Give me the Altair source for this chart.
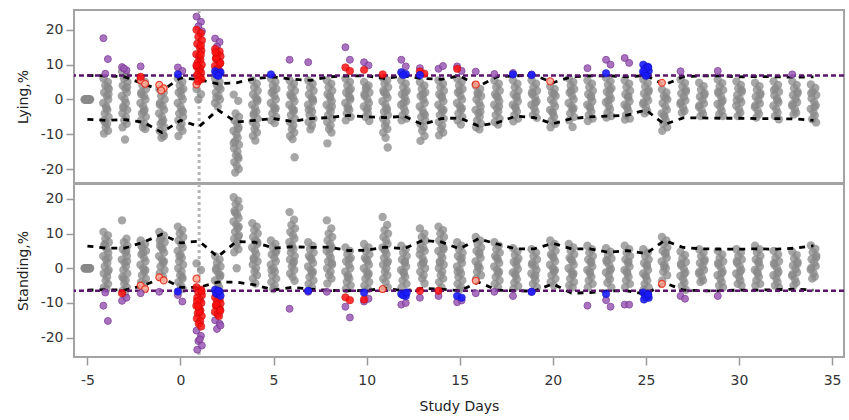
import altair as alt
import pandas as pd

# ---------------- data ----------------
DAYS = list(range(-5, 35))
X_TICKS = [-5, 0, 5, 10, 15, 20, 25, 30, 35]
Y_TICKS = [-20, -10, 0, 10, 20]
JITTER = [-0.14, 0.1, -0.04, 0.15, -0.1, 0.04, 0.12, -0.15, 0.0, 0.07,
          -0.07, 0.14, -0.12, 0.06, -0.02, 0.11, -0.11, 0.02, 0.13, -0.06, 0.09]

LYING_GRAY = {
    -5: [0, 0, 0, 0, 0, 0, 0, 0, 0, 0, 0],
    -4: [6, 5, 4, 3, 2, 1, 0, -1, -2, -3, -4, -5, -6, -7, -8, -9, -9.8, -2.5, 1.5, -6.5, 3.5],
    -3: [8, 7, 6, 5, 4, 3, 2, 1, 0, -1, -2, -3, -4, -5, -6, -7, -8, -11.5, 3.5, -2.5, 6.5],
    -2: [6, 5, 4, 3, 2, 1, 0, -1, -2, -3, -4, -5, -6, -7, -8, -8.5, 1.5, -3.5],
    -1: [3, 2, 1, 0, -1, -2, -3, -4, -5, -6, -7, -8, -9, -10, -11, -10.5, -1.5, -6.5],
    0: [6, 5, 4, 3, 2, 1, 0, -1, -2, -3, -4, -5, -6, -7, -8, -9, -10.5, 2.5, -3.5],
    1: [3, 1.5, 0],
    2: [6, 5, 4, 3, 2, 1, 0, -1, -2, 3.5, 0.5],
    3: [1.4, -0.4, -4, -5, -6, -7, -8, -9, -10, -11, -12, -13, -14, -15, -16, -17, -18, -19, -20, -21, -8.5, -12.5, -16.5],
    4: [5.5, 4.5, 3.5, 2.5, 1.5, 0.5, -0.5, -1.5, -2.5, -3.5, -4.5, -5.5, -6.5, -7.5, -8.5, -9.5, -10.5, -11.8, 0, -4],
    5: [6, 5, 4, 3, 2, 1, 0, -1, -2, -3, -4, -5, -6, -6.8, 2.5, -2.5],
    6: [5.5, 4.5, 3.5, 2.5, 1.5, 0.5, -0.5, -1.5, -2.5, -3.5, -4.5, -5.5, -6.5, -7.5, -8.5, -9.5, -10.5, -11.4, -16.6, 1, -3],
    7: [5.5, 4.5, 3.5, 2.5, 1.5, 0.5, -0.5, -1.5, -2.5, -3.5, -4.5, -5.5, -6.5, -7.5, -8.6, 0, -3],
    8: [5.5, 4.5, 3.5, 2.5, 1.5, 0.5, -0.5, -1.5, -2.5, -3.5, -4.5, -5.5, -6.5, -7.5, -8.5, -9.5, -12.6, 1, -2],
    9: [6, 5, 4, 3, 2, 1, 0, -1, -2, -3, -4, -5, -6, 2.5, -2.5, 0.5],
    10: [5, 4, 3, 2, 1, 0, -1, -2, -3, -4, -5, -6.2, 1.5, -2.5, 3.5],
    11: [6.3, 5.5, 4.5, 3.5, 2.5, 1.5, 0.5, -0.5, -1.5, -2.5, -3.5, -4.5, -5.5, -6.5, -7.5, -8.5, -9.5, -11, -13.8, 2, -3],
    12: [5.5, 4.5, 3.5, 2.5, 1.5, 0.5, -0.5, -1.5, -2.5, -3.5, -4.5, -5.5, -6, 2, -1],
    13: [5, 4, 3, 2, 1, 0, -1, -2, -3, -4, -5, -6, -7, -8, -9, -10.5, -11.9, 1.5, -4.5],
    14: [5.5, 4.5, 3.5, 2.5, 1.5, 0.5, -0.5, -1.5, -2.5, -3.5, -4.5, -5.5, -6.5, -7.5, -8.5, -9.5, -10.3, 1, -3],
    15: [6, 5, 4, 3, 2, 1, 0, -1, -2, -3, -4, -5, -6, -7.2, 2.5, -2.5],
    16: [4, 3, 2, 1, 0, -1, -2, -3, -4, -5, -6, -7, -8, -8.6, 1.5, -3.5],
    17: [5.5, 4.5, 3.5, 2.5, 1.5, 0.5, -0.5, -1.5, -2.5, -3.5, -4.5, -5.5, -6.5, -7.2, 1, -2],
    18: [5.5, 4.5, 3.5, 2.5, 1.5, 0.5, -0.5, -1.5, -2.5, -3.5, -4.5, -5.5, -6.3, 1, -2],
    19: [5.5, 4.5, 3.5, 2.5, 1.5, 0.5, -0.5, -1.5, -2.5, -3.5, -4.5, -5.3, 2, -1],
    20: [3.8, 3, 2, 1, 0, -1, -2, -3, -4, -5, -6, -7, -8, 1.5, -3.5],
    21: [6, 5, 4, 3, 2, 1, 0, -1, -2, -3, -4, -5, -6, -7.9, 2.5, -2.5],
    22: [5.5, 4.5, 3.5, 2.5, 1.5, 0.5, -0.5, -1.5, -2.5, -3.5, -4.5, -5.5, -6.2, 1, -2],
    23: [6.2, 5.2, 4.2, 3.2, 2.2, 1.2, 0.2, -0.8, -1.8, -2.8, -3.8, -4.8, -5.2, 2.7, -0.3],
    24: [5.5, 4.5, 3.5, 2.5, 1.5, 0.5, -0.5, -1.5, -2.5, -3.5, -4.5, -5.5, -5.8, 1, -2],
    25: [5.7, 4.7, 3.7, 2.7, 1.7, 0.7, -0.3, -1.3, -2.3, -3.3, -4, 2.2, -0.8],
    26: [2.9, 2, 1, 0, -1, -2, -3, -4, -5, -6, -7, -8, -9, 0.5, -4.5],
    27: [5.7, 4.7, 3.7, 2.7, 1.7, 0.7, -0.3, -1.3, -2.3, -3.3, -3.8, 2.2, -0.8],
    28: [4.8, 3.8, 2.8, 1.8, 0.8, -0.2, -1.2, -2.2, -3.2, -4.2, -4.8, 1.3, -1.7],
    29: [5.7, 4.7, 3.7, 2.7, 1.7, 0.7, -0.3, -1.3, -2.3, -3.3, -4.3, -4.8, 2.2, -0.8],
    30: [5.2, 4.2, 3.2, 2.2, 1.2, 0.2, -0.8, -1.8, -2.8, -3.8, -4.8, 2.7, -0.3],
    31: [4.8, 3.8, 2.8, 1.8, 0.8, -0.2, -1.2, -2.2, -3.2, -4.2, -5.2, 1.3, -1.7],
    32: [5.2, 4.2, 3.2, 2.2, 1.2, 0.2, -0.8, -1.8, -2.8, -3.8, -4.8, -5.7, 2.7, -0.3],
    33: [5.2, 4.2, 3.2, 2.2, 1.2, 0.2, -0.8, -1.8, -2.8, -3.8, -4.3, 1.7, -1.3],
    34: [4.3, 3.3, 2.3, 1.3, 0.3, -0.7, -1.7, -2.7, -3.7, -4.7, -5.7, -6.6, 1.8, -2.2],
}
LYING_PURPLE = {
    -4: [17.6, 11.6, 7.4], -3: [9.3, 8.4, 8.9], -2: [9.5], 0: [9.2, 8.2],
    1: [23.8, 22.3, 21, 19.6], 2: [17.5, 16.5, 15.2], 6: [11.4], 7: [10.7],
    9: [15, 11.4], 10: [10.7, 9.8], 12: [11.4, 9.5], 13: [9], 14: [8.8, 9.6],
    15: [9.5, 8.2], 16: [8], 17: [7.3], 18: [7.6], 19: [7.2], 22: [9],
    23: [11.4, 10], 24: [11.9, 10.5], 27: [8.1], 29: [8.2], 33: [7.2],
}
LYING_RED = {
    -2: [6.5],
    1: [20, 19, 18, 17, 16, 15, 14, 13, 12.2, 11.4, 10.6, 10, 9.4, 8.8, 8.2, 7.6, 7, 6.4, 5.8, 5.2, 12.8, 9.8, 15.5],
    2: [14.5, 13.8, 13.1, 12.4, 11.7, 11, 10.3, 9.6, 8.9, 8.3, 12, 10.5, 13.5],
    9: [9.2, 8.2], 10: [8.5], 11: [7.2], 13: [8, 7.4], 15: [8.8],
}
LYING_BLUE = {
    0: [7.2], 2: [8.1, 7.5, 7.0, 7.8, 7.3, 6.8], 5: [7.2], 12: [7.8, 7.3, 7.0],
    13: [7], 18: [7.2], 19: [7], 23: [7.5], 25: [10, 9.4, 8.8, 8.2, 7.6, 7, 9.2, 8, 6.8],
}
LYING_SALMON = {-2: [5.5, 4.5], -1: [4.2, 3.2, 2.6], 1: [4.3], 16: [4.3], 20: [5.2], 26: [4.8]}
LYING_UPPER = [6.9, 6.8, 6.5, 4.5, 2.5, 6.2, 5.7, 4.5, 4.8, 6, 6.5, 5.8, 5.5, 6.5, 6.8, 6.8, 6, 6.8, 6, 5.8,
               6.8, 3.8, 6.5, 6.8, 7, 4.8, 6.5, 6.8, 6.8, 6.5, 6.9, 4.2, 6.5, 6.8, 6.8, 6.5, 6.6, 6.5, 6.4, 6.5]
LYING_LOWER = [-5.7, -6, -5.8, -6.5, -9.5, -6, -7.8, -3, -6.5, -6, -5.5, -6.3, -5.5, -5.2, -4.6, -5, -5.2, -4.8, -7.2, -5.5,
               -5.3, -7.6, -6.7, -4.8, -5.2, -7, -5.5, -5, -4.8, -4.5, -3, -7.2, -5.3, -5.3, -5.4, -5.4, -5.5, -5.5, -5.6, -6]
LYING_LIMIT = 6.9

STANDING_GRAY = {
    -5: [0, 0, 0, 0, 0, 0, 0, 0, 0, 0, 0],
    -4: [10.5, 9.5, 8.5, 7.5, 6.5, 5.5, 4.5, 3.5, 2.5, 1.5, 0.5, -0.5, -1.5, -2.5, -3.5, -4.5, -5.5, -6, 3, 7, -1],
    -3: [13.8, 8.5, 7.5, 6.5, 5.5, 4.5, 3.5, 2.5, 1.5, 0.5, -0.5, -1.5, -2.5, -3.5, -4.5, -5.5, -6.5, -7.3, 2, -3, 5],
    -2: [8, 7, 6, 5, 4, 3, 2, 1, 0, -1, -2, -3, -4, -4.5, 4.5, -0.5, 6.5],
    -1: [10.5, 9.5, 8.5, 7.5, 6.5, 5.5, 4.5, 3.5, 2.5, 1.5, 0.5, -0.5, -1.5, -2.5, 6, 2, 8],
    0: [12, 11, 10, 9, 8, 7, 6, 5, 4, 3, 2, 1, 0, -1, -2, -3, -4, -5, -6, 3.5, -2.5],
    1: [1.4, -0.5],
    2: [3.5, 2.5, 1.5, 0.5, -0.5, -1.5, -2.5, -3.5, -4.5, -5.5, 0, -2],
    3: [20.5, 19.5, 18.5, 17.5, 16.5, 15.5, 14.5, 13.5, 12.5, 11.5, 10.5, 9.5, 8.5, 7.5, 6.5, 5.5, 4.6, 0, 12, 16, 9],
    4: [13, 12, 11, 10, 9, 8, 7, 6, 5, 4, 3, 2, 1, 0, -1, -2, -3, -4.4, 7.5, 2.5],
    5: [8, 7, 6, 5, 4, 3, 2, 1, 0, -1, -2, -3, -4, -5, -6, 4.5, -0.5],
    6: [16.2, 14, 12.5, 11.5, 10.5, 9.5, 8.5, 7.5, 6.5, 5.5, 4.5, 3.5, 2.5, 1.5, 0.5, -0.5, -1.5, -2.5, -3.6, 6, 2],
    7: [7.5, 6.5, 5.5, 4.5, 3.5, 2.5, 1.5, 0.5, -0.5, -1.5, -2.5, -3.5, -4.5, -5.5, 3, -1],
    8: [13.8, 11.5, 10, 9, 8, 7, 6, 5, 4, 3, 2, 1, 0, -1, -2, -3, -4.4, 5.5, 1.5],
    9: [6, 5, 4, 3, 2, 1, 0, -1, -2, -3, -4, -5, -6, 2.5, -2.5],
    10: [7, 6, 5, 4, 3, 2, 1, 0, -1, -2, -3, -4, -5, -6, 2.5, -1.5],
    11: [14.8, 12.5, 11, 10, 9, 8, 7, 6, 5, 4, 3, 2, 1, 0, -1, -2, -3, -4, -5.5, 5.5, 1.5],
    12: [6.5, 5.5, 4.5, 3.5, 2.5, 1.5, 0.5, -0.5, -1.5, -2.5, -3.5, -4.5, -5.5, 2, -1],
    13: [11.5, 10, 9, 8, 7, 6, 5, 4, 3, 2, 1, 0, -1, -2, -3, -4.4, 5.5, 1.5],
    14: [12, 11, 10, 9, 8, 7, 6, 5, 4, 3, 2, 1, 0, -1, -2, -3, -4, -5.5, 5.5, 1.5],
    15: [7.5, 6.5, 5.5, 4.5, 3.5, 2.5, 1.5, 0.5, -0.5, -1.5, -2.5, -3.5, -4.5, -5.5, -6.2, 3, -1],
    16: [9, 8, 7, 6, 5, 4, 3, 2, 1, 0, -1, -2, -3, 4.5, 0.5],
    17: [7.5, 6.5, 5.5, 4.5, 3.5, 2.5, 1.5, 0.5, -0.5, -1.5, -2.5, -3.5, -4.5, -5.5, 3, -1],
    18: [5.8, 4.8, 3.8, 2.8, 1.8, 0.8, -0.2, -1.2, -2.2, -3.2, -4.2, -5.2, -6, 2, -1.5],
    19: [5.5, 4.5, 3.5, 2.5, 1.5, 0.5, -0.5, -1.5, -2.5, -3.5, -4.5, -5.5, 1, -2],
    20: [8, 7, 6, 5, 4, 3, 2, 1, 0, -1, -2, -3, -4, -5, 3.5, -0.5],
    21: [7, 6, 5, 4, 3, 2, 1, 0, -1, -2, -3, -4, -5, -5.5, 2.5, -1.5],
    22: [6.5, 5.5, 4.5, 3.5, 2.5, 1.5, 0.5, -0.5, -1.5, -2.5, -3.5, -4.5, -5.5, 2, -1],
    23: [5.8, 4.8, 3.8, 2.8, 1.8, 0.8, -0.2, -1.2, -2.2, -3.2, -4.2, -5.5, 2.3, -0.7],
    24: [6.5, 5.5, 4.5, 3.5, 2.5, 1.5, 0.5, -0.5, -1.5, -2.5, -3.5, -4.5, -5.5, 2, -1],
    25: [5.5, 4.5, 3.5, 2.5, 1.5, 0.5, -0.5, -1.5, -2.5, -3.5, -4.5, -5.5, -6.2, 1, -2],
    26: [9, 8, 7, 6, 5, 4, 3, 2, 1, 0, -1, -2, -3.5, 4.5, 0.5],
    27: [4.8, 3.8, 2.8, 1.8, 0.8, -0.2, -1.2, -2.2, -3.2, -4.2, -5.2, -6.2, 1.3, -1.7],
    28: [5.5, 4.5, 3.5, 2.5, 1.5, 0.5, -0.5, -1.5, -2.5, -3.5, -4, 2, -1],
    29: [5, 4, 3, 2, 1, 0, -1, -2, -3, -4, -5, -5.5, 1.5, -1.5],
    30: [5.5, 4.5, 3.5, 2.5, 1.5, 0.5, -0.5, -1.5, -2.5, -3.5, -4.5, -5, 2, -1],
    31: [6.5, 5.5, 4.5, 3.5, 2.5, 1.5, 0.5, -0.5, -1.5, -2.5, -3.5, -4.5, -5, 2, -1],
    32: [5, 4, 3, 2, 1, 0, -1, -2, -3, -4, -5, -5.5, 1.5, -1.5],
    33: [4.8, 3.8, 2.8, 1.8, 0.8, -0.2, -1.2, -2.2, -3.2, -4.2, -5, 1.3, -1.7],
    34: [6.6, 5.6, 4.6, 3.6, 2.6, 1.6, 0.6, -0.4, -1.4, -2.4, -3, 3.1, 0.1],
}
STANDING_PURPLE = {
    -4: [-10.8, -15.2, -7], -3: [-9.4, -8.5], -2: [-7.2], -1: [-6.8], 0: [-7.7, -9.6],
    1: [-18, -19.5, -21, -22.3, -23.5, -20.5], 2: [-15, -16, -17.5, -16.5], 6: [-11.7],
    7: [-6.8], 8: [-6.8], 9: [-11.1, -14.2], 10: [-9.6, -8.8], 12: [-10.5, -10], 13: [-8.5],
    14: [-8], 15: [-9.8, -9.3], 16: [-7.2], 17: [-6.8], 18: [-8], 19: [-6.8], 22: [-10.8],
    23: [-9.2, -11.1], 24: [-10.5, -10.5], 27: [-8, -8.8], 29: [-8],
}
STANDING_RED = {
    -3: [-7.2],
    1: [-5.5, -6.2, -7, -7.8, -8.5, -9.2, -10, -10.8, -11.5, -12.2, -13, -13.8, -14.5, -15.3, -16, -16.8, -9.5, -12.5, -6.6, -11],
    2: [-8.4, -9, -9.6, -10.2, -10.8, -11.4, -12, -12.6, -13.2, -13.8, -10.5, -12.2],
    9: [-8.4, -9.2], 10: [-9], 13: [-6.5], 14: [-6.5],
}
STANDING_BLUE = {
    0: [-6.7], 2: [-6.2, -6.8, -7.4, -7.9, -7.1, -6.5], 7: [-6.5], 10: [-7], 12: [-7.4, -8, -7.8, -7],
    15: [-8, -8.5], 19: [-6.8], 23: [-7.4], 25: [-7, -7.5, -8, -8.5, -9, -8.2, -7.6],
}
STANDING_SALMON = {-2: [-5, -6], -1: [-2.6, -3.5], 1: [-3], 11: [-6], 16: [-3.6], 26: [-4.5]}
STANDING_UPPER = [6.4, 5.8, 5.8, 7.5, 9.8, 7.3, 7.8, 3.3, 7.7, 7.5, 5.8, 6.2, 6, 6.1, 5.1, 5.2, 6.1, 5.6, 8, 7.6,
                  5.6, 8.5, 7, 5.6, 5.6, 7.2, 5.6, 5.6, 4.6, 5.1, 4.2, 8, 6, 5.6, 5.5, 5.5, 5.6, 5.5, 5.8, 6.5]
STANDING_LOWER = [-6.3, -6.2, -6.3, -5, -2.8, -5.5, -5.5, -4, -4, -4.8, -6.3, -5.5, -6, -6.4, -6.5, -6.4, -5.8, -6.5, -5.8, -6,
                  -6.5, -4, -6.3, -6.5, -6.6, -4.5, -7.2, -7, -6.5, -6.5, -7.5, -4.2, -6.3, -6.5, -6.5, -6.3, -6.3, -6.2, -6, -6.3]
STANDING_LIMIT = -6.5
EVENT_DAY = 1

# ---------------- helpers ----------------
X_DOMAIN = [-5.72, 35.64]


def to_frame(dct):
    rows = []
    for d, vals in dct.items():
        for i, v in enumerate(vals):
            rows.append({"day": d, "x": d + JITTER[i % len(JITTER)], "v": v})
    return pd.DataFrame(rows)


def panel(gray, purple, red, blue, salmon, upper, lower, limit, ydom, ytitle, show_x):
    xscale = alt.Scale(domain=X_DOMAIN, nice=False, zero=False)
    yscale = alt.Scale(domain=ydom, nice=False, zero=False)
    if show_x:
        xaxis = alt.Axis(values=X_TICKS, title="Study Days", labelExpr="'' + datum.value",
                         labelPadding=8, titlePadding=12)
    else:
        xaxis = None
    yaxis = alt.Axis(values=Y_TICKS, title=ytitle, labelExpr="'' + datum.value",
                     labelPadding=3, titlePadding=10)

    def pts(df, size=44, **kw):
        return alt.Chart(df).mark_circle(size=size, **kw).encode(
            x=alt.X("x:Q", scale=xscale, axis=xaxis),
            y=alt.Y("v:Q", scale=yscale, axis=yaxis),
        )

    vline = alt.Chart(pd.DataFrame({"d": [EVENT_DAY]})).mark_rule(
        color="#b5b5b5", strokeDash=[3, 3], strokeWidth=3, clip=True
    ).encode(x=alt.X("d:Q", scale=xscale, axis=xaxis))

    gray_l = pts(to_frame(gray), size=70, color="#888888", opacity=0.75)

    bounds = pd.DataFrame(
        [{"day": d, "v": u, "b": "upper"} for d, u in zip(DAYS, upper)]
        + [{"day": d, "v": l, "b": "lower"} for d, l in zip(DAYS, lower)]
    )
    bound_l = alt.Chart(bounds).mark_line(
        color="black", strokeDash=[6, 6], strokeWidth=2.8
    ).encode(
        x=alt.X("day:Q", scale=xscale, axis=xaxis),
        y=alt.Y("v:Q", scale=yscale, axis=yaxis),
        detail="b:N",
    )

    limit_l = alt.Chart(pd.DataFrame({"v": [limit]})).mark_rule(
        color="#5a156c", strokeDash=[5, 3], strokeWidth=2.5, clip=True
    ).encode(y=alt.Y("v:Q", scale=yscale, axis=yaxis))

    purple_l = pts(to_frame(purple), size=48, fill="#9b59b6", stroke="#7a3a94", strokeWidth=1, opacity=0.85)
    red_l = pts(to_frame(red), size=56, fill="#ff1010", stroke="#c00000", strokeWidth=0.6, opacity=0.85)
    blue_l = pts(to_frame(blue), size=56, fill="#1a1aff", stroke="#1010b0", strokeWidth=0.6, opacity=0.9)
    salmon_l = pts(to_frame(salmon), size=48, fill="#ffab9a", stroke="#e8321f", strokeWidth=1.2, opacity=0.9)

    return alt.layer(vline, gray_l, bound_l, limit_l, salmon_l, purple_l, red_l, blue_l).properties(
        width=770, height=173
    )


top = panel(LYING_GRAY, LYING_PURPLE, LYING_RED, LYING_BLUE, LYING_SALMON,
            LYING_UPPER, LYING_LOWER, LYING_LIMIT, [-24.0, 25.7], "Lying,%", False)
bottom = panel(STANDING_GRAY, STANDING_PURPLE, STANDING_RED, STANDING_BLUE, STANDING_SALMON,
               STANDING_UPPER, STANDING_LOWER, STANDING_LIMIT, [-25.6, 24.3], "Standing,%", True)

chart = alt.vconcat(top, bottom, spacing=1, bounds="flush").properties(
    padding={"left": 15, "top": 9, "right": 2, "bottom": 0}
).configure_view(
    stroke="#a3a3a3", strokeWidth=2
).configure_axis(
    grid=False, domain=False, tickColor="#9a9a9a", tickWidth=1.5, tickSize=8,
    labelFont="DejaVu Sans", labelFontSize=14, labelColor="#333333",
    titleFont="DejaVu Sans", titleFontSize=14, titleFontWeight="normal", titleColor="#222222",
).configure_concat(spacing=1)

chart.save("out.html", embed_options={"renderer": "svg", "actions": False})
